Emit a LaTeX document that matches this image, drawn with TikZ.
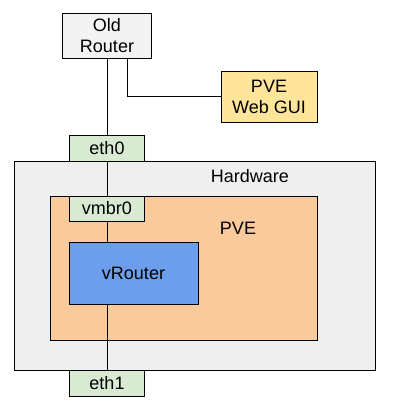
\documentclass[tikz,border=0pt]{standalone}
\usepackage{fontspec}
\setmainfont{Liberation Sans}
\definecolor{oldgray}{HTML}{F3F3F3}
\definecolor{guiyel}{HTML}{FFE599}
\definecolor{ethgreen}{HTML}{D9EAD3}
\definecolor{hwgray}{HTML}{EFEFEF}
\definecolor{pveor}{HTML}{F9CB9C}
\definecolor{vrblue}{HTML}{6D9EEB}
\pgfdeclarelayer{back}
\pgfdeclarelayer{mid}
\pgfsetlayers{back,mid,main}
\begin{document}
\begin{tikzpicture}[x=1pt,y=-1pt,
  box/.style={draw=black, line width=0.9pt, inner sep=0pt, align=center, font=\fontsize{18}{21}\selectfont},
  lbl/.style={inner sep=0pt, font=\fontsize{18}{21}\selectfont},
  link/.style={draw=black, line width=0.9pt}]
\useasboundingbox (0,0) rectangle (401,415);
% containers
\begin{pgfonlayer}{back}
\fill[white] (0,0) rectangle (401,415);
\node[box, fill=hwgray, minimum width=361pt, minimum height=209pt] (hw) at (194.5,265.5) {};
\node[box, fill=pveor, minimum width=267pt, minimum height=144pt] (pve) at (183.5,268) {};
\end{pgfonlayer}
\node[lbl] (hwlbl) at (250,176) {Hardware};
\node[lbl] (pvelbl) at (238,228) {PVE};
% top
\node[box, fill=oldgray, minimum width=89pt, minimum height=45pt] (old) at (107,35.5) {Old\\Router};
\node[box, fill=guiyel, minimum width=96pt, minimum height=51pt] (gui) at (269,96.5) {PVE\\Web GUI};
% interfaces
\node[box, fill=ethgreen, minimum width=75pt, minimum height=26pt] (eth0) at (107,148) {eth0};
\node[box, fill=ethgreen, minimum width=75pt, minimum height=25pt] (vmbr) at (107,208.5) {vmbr0};
\node[box, fill=vrblue, minimum width=129pt, minimum height=62pt] (vr) at (133.5,273) {vRouter};
\node[box, fill=ethgreen, minimum width=75pt, minimum height=26pt] (eth1) at (107,383) {eth1};
% links
\begin{pgfonlayer}{mid}
\draw[link] (old.south) -- (eth0.north);
\draw[link] ([xshift=20pt]old.south) |- (gui.west);
\draw[link] (eth0.south) -- (vmbr.north);
\draw[link] (vmbr.south) -- (vmbr.south |- vr.north);
\draw[link] (vmbr.south |- vr.south) -- (eth1.north);
\end{pgfonlayer}
\end{tikzpicture}
\end{document}
